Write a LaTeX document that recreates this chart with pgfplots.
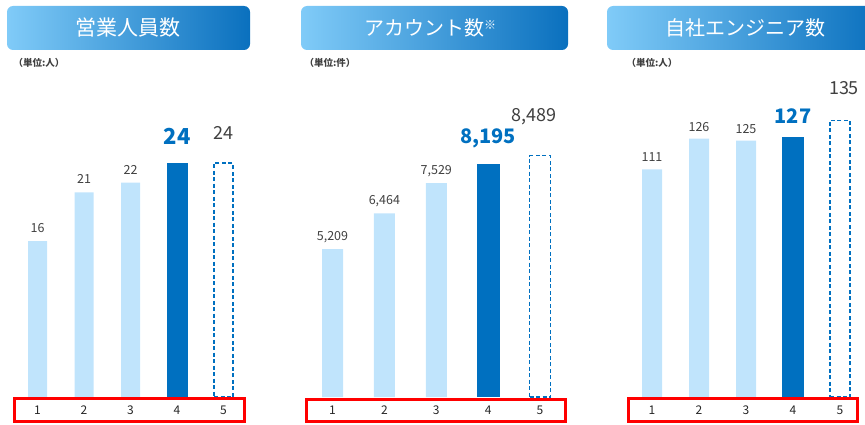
\documentclass[border=0pt]{standalone}
\usepackage{pgfplots}
\pgfplotsset{compat=1.18}
\usepackage{fontspec}
\setmainfont{Noto Sans CJK JP}
\definecolor{lightbar}{HTML}{C0E4FC}
\definecolor{darkbar}{HTML}{0070C0}
\definecolor{gradL}{HTML}{80CBF8}
\definecolor{gradR}{HTML}{0A70BE}
\definecolor{txt}{HTML}{404040}
\pgfplotsset{panel/.style={scale only axis, height=300pt, xmin=0.5, xmax=5.5, ymin=0,
  anchor=south west, clip=false, axis line style={draw=none}, major tick length=0pt,
  ytick=\empty, xtick={1,2,3,4,5}, /pgf/number format/assume math mode=true,
  xticklabel style={font=\fontsize{12}{14}\selectfont, text=black!85, anchor=center, yshift=-13pt}},
  smallbar/.style={ybar, bar shift=0pt, fill=lightbar, draw=none, point meta=explicit symbolic,
  nodes near coords, nodes near coords style={font=\fontsize{12.5}{14}\selectfont, text=txt, anchor=center}},
  nowbar/.style={ybar, bar shift=0pt, fill=darkbar, draw=none, point meta=explicit symbolic,
  nodes near coords, nodes near coords style={font=\bfseries\fontsize{20}{22}\selectfont, text=darkbar, anchor=center}},
  fcbar/.style={ybar, bar shift=0pt, fill=none, draw=darkbar, line width=1.3pt, dash pattern=on 4pt off 2.5pt, point meta=explicit symbolic,
  nodes near coords, nodes near coords style={font=\fontsize{18}{20}\selectfont, text=txt, anchor=center, solid}}}
\begin{document}
\begin{tikzpicture}
\useasboundingbox (0,0) rectangle (865pt,424pt);
% title boxes
\shade[left color=gradL, right color=gradR, rounded corners=6pt] (7pt,374pt) rectangle (250pt,418pt);
\node[text=white, font=\fontsize{21}{24}\selectfont] at (128pt,396pt) {営業人員数};
\shade[left color=gradL, right color=gradR, rounded corners=6pt] (301pt,374pt) rectangle (568pt,418pt);
\node[text=white, font=\fontsize{20}{24}\selectfont] at (430pt,396pt) {アカウント数\raisebox{6pt}{\fontsize{12}{12}\selectfont ※}};
\shade[left color=gradL, right color=gradR, rounded corners=6pt] (607pt,374pt) rectangle (880pt,418pt);
\node[text=white, font=\fontsize{20}{24}\selectfont] at (745pt,396pt) {自社エンジニア数};
% unit labels
\node[anchor=west, text=txt, font=\bfseries\fontsize{9.5}{11}\selectfont] at (10pt,361pt) {（単位:人）};
\node[anchor=west, text=txt, font=\bfseries\fontsize{9.5}{11}\selectfont] at (301pt,361pt) {（単位:件）};
\node[anchor=west, text=txt, font=\bfseries\fontsize{9.5}{11}\selectfont] at (623pt,361pt) {（単位:人）};

% panel 1
\begin{axis}[panel, at={(14.25pt,27pt)}, width=232.5pt, ymax=30.77]
\addplot[smallbar, bar width=19pt, nodes near coords style={yshift=13pt}] coordinates {(1,16) [16] (2,21) [21] (3,22) [22]};
\addplot[nowbar, bar width=21pt, nodes near coords style={yshift=27pt, font=\bfseries\fontsize{22}{24}\selectfont}] coordinates {(4,24) [24]};
\addplot[fcbar, bar width=19pt, nodes near coords style={yshift=30pt}] coordinates {(5,24) [24]};
\end{axis}
% panel 2
\begin{axis}[panel, at={(306.56pt,27pt)}, width=259.4pt, ymax=10560]
\addplot[smallbar, bar width=21pt, nodes near coords style={yshift=12pt}] coordinates {(1,5209) [5,209] (2,6464) [6,464] (3,7529) [7,529]};
\addplot[nowbar, bar width=23pt, nodes near coords style={yshift=26pt}] coordinates {(4,8195) [8,195]};
\addplot[fcbar, bar width=21pt, nodes near coords style={yshift=39pt, xshift=-6pt}] coordinates {(5,8489) [8,489]};
\end{axis}
% panel 3
\begin{axis}[panel, at={(628.5pt,27pt)}, width=235pt, ymax=146.3]
\addplot[smallbar, bar width=20pt, nodes near coords style={yshift=12pt}] coordinates {(1,111) [111] (2,126) [126] (3,125) [125]};
\addplot[nowbar, bar width=22pt, nodes near coords style={yshift=20pt}] coordinates {(4,127) [127]};
\addplot[fcbar, bar width=20pt, nodes near coords style={yshift=32pt, xshift=4pt}] coordinates {(5,135) [135]};
\end{axis}
% red boxes
\draw[red, line width=3pt] (14pt,2.8pt) rectangle (244.5pt,25.5pt);
\draw[red, line width=3pt] (306.5pt,2.5pt) rectangle (565pt,24.5pt);
\draw[red, line width=3pt] (628pt,2.5pt) rectangle (857.5pt,25.5pt);
\end{tikzpicture}
\end{document}
